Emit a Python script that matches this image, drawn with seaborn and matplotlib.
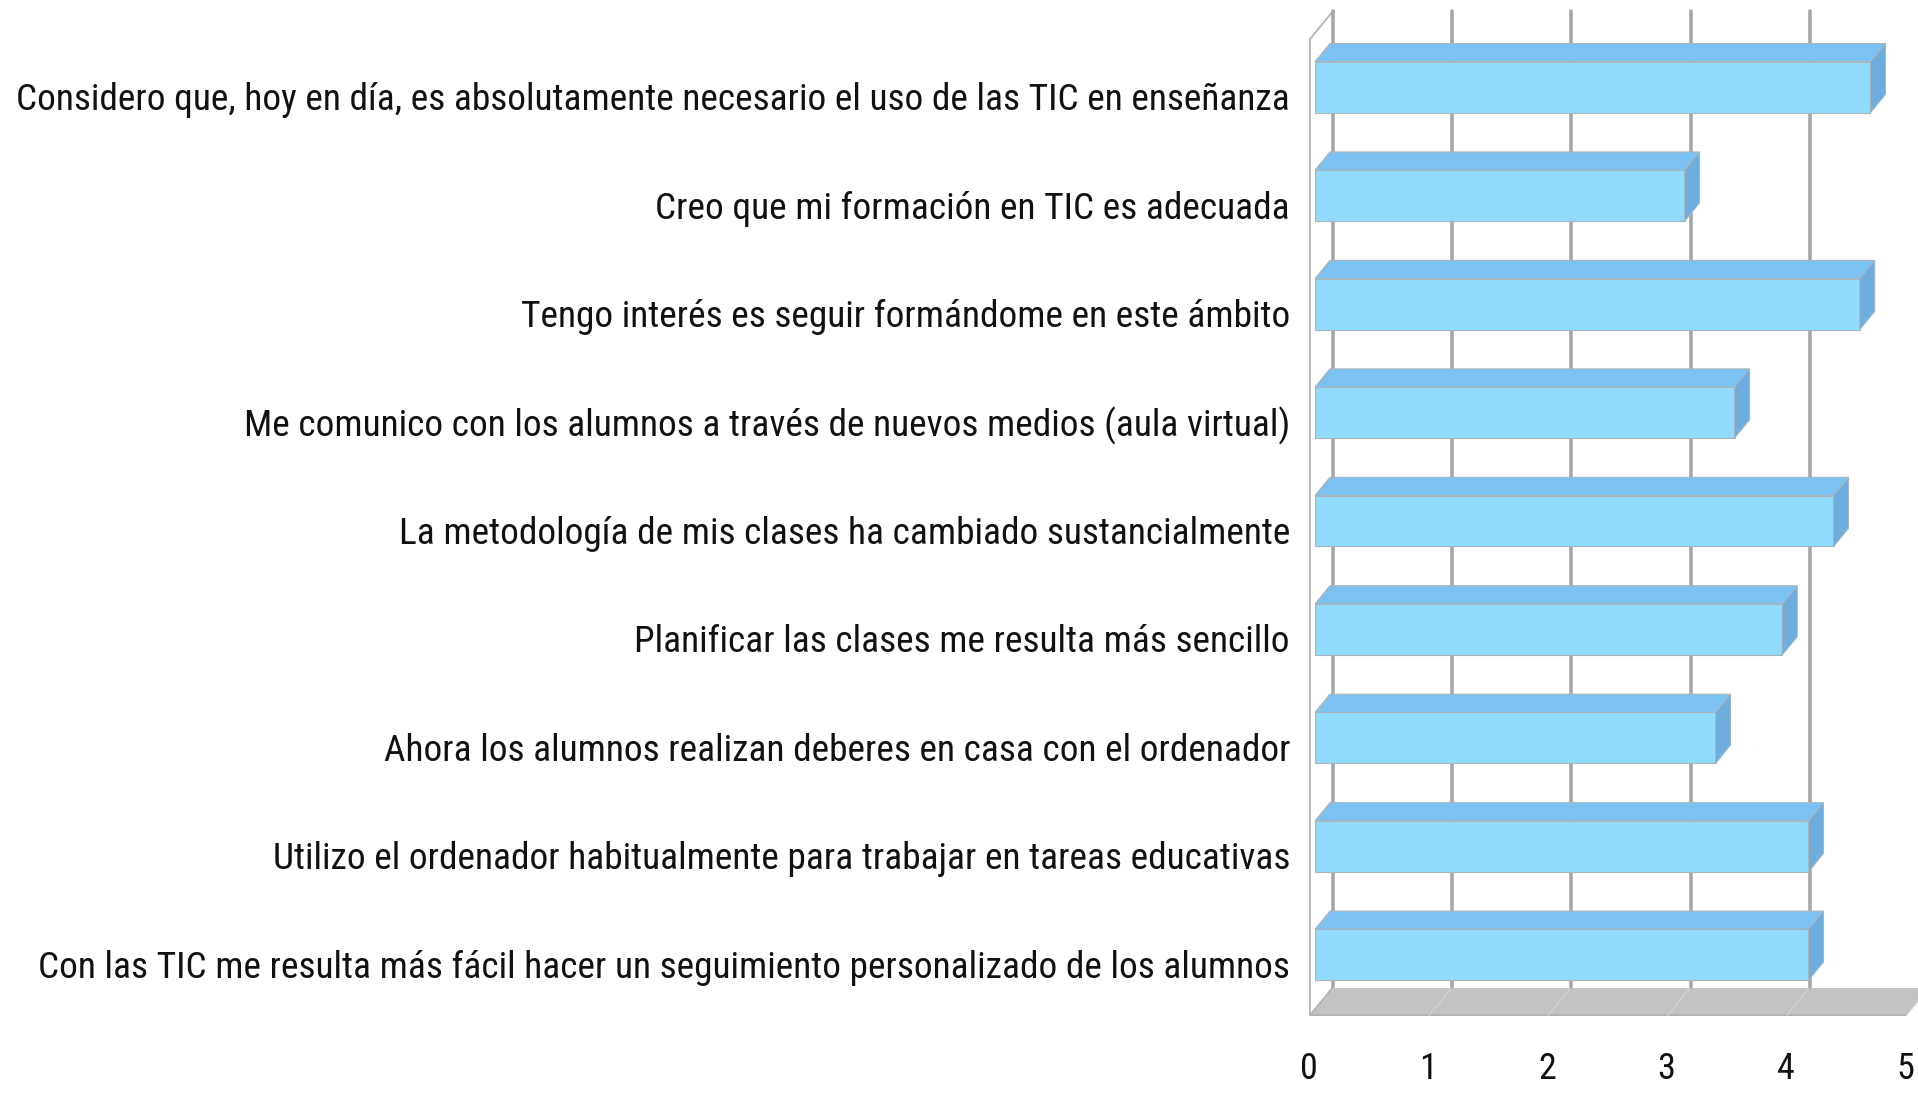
import matplotlib
matplotlib.use("Agg")
import matplotlib.pyplot as plt
from matplotlib import font_manager as fm
from matplotlib.patches import Polygon
from matplotlib.transforms import ScaledTranslation
import pandas as pd
import seaborn as sns

# survey items (top to bottom) and mean score
items = [
    "Considero que, hoy en día, es absolutamente necesario el uso de las TIC en enseñanza",
    "Creo que mi formación en TIC es adecuada",
    "Tengo interés es seguir formándome en este ámbito",
    "Me comunico con los alumnos a través de nuevos medios (aula virtual)",
    "La metodología de mis clases ha cambiado sustancialmente",
    "Planificar las clases me resulta más sencillo",
    "Ahora los alumnos realizan deberes en casa con el ordenador",
    "Utilizo el ordenador habitualmente para trabajar en tareas educativas",
    "Con las TIC me resulta más fácil hacer un seguimiento personalizado de los alumnos",
]
scores = [4.66, 3.10, 4.57, 3.52, 4.35, 3.92, 3.36, 4.14, 4.14]
xticks = [0, 1, 2, 3, 4, 5]

front_col = "#91dcfe"
top_col = "#7bc2f3"
side_col = "#6eaddd"
grid_col = "#a6a6a6"

sns.set_style("white")
plt.rcParams["font.family"] = ["Liberation Sans", "DejaVu Sans"]

# the original uses a narrow font; take a condensed one if there is any
pref = ["Liberation Sans Narrow", "Roboto Condensed", "Open Sans Condensed", "Noto Sans Condensed",
        "DejaVu Sans Condensed", "DejaVu Sans"]
cands = []
for f in fm.fontManager.ttflist:
    narrow = "Narrow" in f.name or "Condensed" in f.name or "condensed" in str(f.stretch)
    if narrow and f.style == "normal" and f.weight in (400, "normal", "regular", "book"):
        cands.append(f)
cands.sort(key=lambda f: pref.index(f.name) if f.name in pref else len(pref))
if cands:
    lab_font = fm.FontProperties(fname=cands[0].fname)
else:
    lab_font = fm.FontProperties(family=["Liberation Sans", "DejaVu Sans"])

W, H = 1918, 1093
fig = plt.figure(figsize=(W / 100, H / 100), dpi=100)
# bar front plane: value 0 / 5 and category band in pixels
px0, px5 = 1315, 1911
py_top, py_bot = 33, 1009
ax = fig.add_axes([px0 / W, 1 - py_bot / H, (px5 - px0) / W, (py_bot - py_top) / H])

df = pd.DataFrame({"item": items, "score": scores})
sns.barplot(data=df, x="score", y="item", orient="h", color=front_col, saturation=1,
            width=0.47, edgecolor="#a9b5bd", linewidth=0.8, ax=ax, zorder=5)

n = len(items)
ax.set_xlim(0, 5)
ax.set_ylim(n - 0.5, -0.5)

# depth of the fake 3d box, pixels -> data units
ux = (px5 - px0) / 5
uy = (py_bot - py_top) / n
ddx, ddy = 23 / ux, -28 / uy
f_front, f_back, f_bar = -0.22, 0.78, 0.65


def shift(pts, f):
    return [(x + f * ddx, y + f * ddy) for x, y in pts]


y0, y1 = -0.5, n - 0.5
# floor
floor = shift([(0, y1), (5, y1)], f_front) + shift([(5, y1), (0, y1)], f_back)
ax.add_patch(Polygon(floor, closed=True, facecolor="#c3c3c3", edgecolor="#b0b0b0",
                     lw=1.2, clip_on=False, zorder=1))
for k in xticks[1:]:
    seg = shift([(k, y1)], f_front) + shift([(k, y1)], f_back)
    ax.plot(*zip(*seg), color="#d2d2d2", lw=1, clip_on=False, zorder=1.5)
back_edge = shift([(0, y1), (5, y1)], f_back)
ax.plot(*zip(*back_edge), color="white", lw=1.5, clip_on=False, zorder=1.6)

# left side wall outline
wall = shift([(0, y1), (0, y0)], f_front) + shift([(0, y0), (0, y1)], f_back)
ax.add_patch(Polygon(wall, closed=False, fill=False, edgecolor="#b5b5b5", lw=1.3,
                     clip_on=False, zorder=2))

# back wall gridlines
for k in xticks:
    seg = shift([(k, y0), (k, y1)], f_back)
    ax.plot(*zip(*seg), color=grid_col, lw=2.6, clip_on=False, zorder=2)

# top and side faces of each bar
bars = [p for p in ax.patches if p.get_facecolor()[:3] == matplotlib.colors.to_rgb(front_col)]
for p in bars:
    bx, by, bw, bh = p.get_x(), p.get_y(), p.get_width(), p.get_height()
    top = [(bx, by), (bx + bw, by)] + shift([(bx + bw, by), (bx, by)], f_bar)
    side = [(bx + bw, by), (bx + bw, by + bh)] + shift([(bx + bw, by + bh), (bx + bw, by)], f_bar)
    ax.add_patch(Polygon(top, closed=True, facecolor=top_col, edgecolor="#a9b5bd",
                         lw=0.8, clip_on=False, zorder=5))
    ax.add_patch(Polygon(side, closed=True, facecolor=side_col, edgecolor="#a9b5bd",
                         lw=0.8, clip_on=False, zorder=5))

for s in ax.spines.values():
    s.set_visible(False)
ax.grid(False)
ax.set_xlabel("")
ax.set_ylabel("")
ax.set_xticks(xticks)
ax.set_xticklabels([str(t) for t in xticks])
ax.tick_params(axis="x", length=0, pad=30, labelcolor="#111111")
ax.tick_params(axis="y", length=0, pad=18, labelcolor="#111111")

for lab in ax.get_xticklabels():
    lab.set_fontproperties(lab_font)
    lab.set_fontsize(26)
for lab in ax.get_yticklabels():
    lab.set_fontproperties(lab_font)
    lab.set_fontsize(30)

# fit the longest item label to the width it has in the original
fig.canvas.draw()
r = fig.canvas.get_renderer()
widest = max(lab.get_window_extent(r).width for lab in ax.get_yticklabels())
size = 30 * 1275 / widest
shift_down = ScaledTranslation(0, -9 / 100, fig.dpi_scale_trans)
for lab in ax.get_yticklabels():
    lab.set_fontsize(size)
    lab.set_transform(lab.get_transform() + shift_down)
# value labels sit on the front edge of the floor
shift_left = ScaledTranslation(-6 / 100, 0, fig.dpi_scale_trans)
for lab in ax.get_xticklabels():
    lab.set_transform(lab.get_transform() + shift_left)

fig.savefig("out.png", dpi=100)
